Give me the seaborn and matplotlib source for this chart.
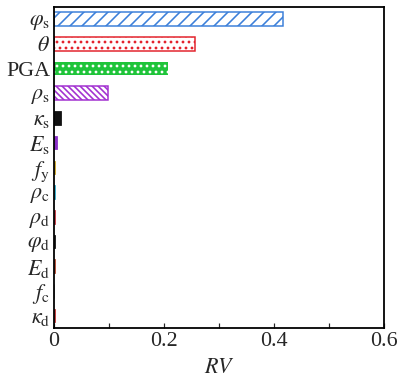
import numpy as np
import pandas as pd
import matplotlib
matplotlib.use("Agg")
import matplotlib.pyplot as plt
from matplotlib.ticker import MultipleLocator, FuncFormatter
import seaborn as sns

# data (top to bottom)
params = [r'$\varphi_\mathrm{s}$', r'$\theta$', 'PGA', r'$\rho_\mathrm{s}$', r'$\kappa_\mathrm{s}$',
          r'$E_\mathrm{s}$', r'$f_\mathrm{y}$', r'$\rho_\mathrm{c}$', r'$\rho_\mathrm{d}$',
          r'$\varphi_\mathrm{d}$', r'$E_\mathrm{d}$', r'$f_\mathrm{c}$', r'$\kappa_\mathrm{d}$']
rv = [0.416, 0.257, 0.207, 0.098, 0.012, 0.005, 0.001, 0.002, 0.002, 0.002, 0.001, 0.0005, 0.001]
bar_colors = ['#3b7fd9', '#e3212b', '#1fc43a', '#a12fd0', '#111111', '#8a2fc8', '#c8a020',
              '#2aa8c8', '#c0303a', '#111111', '#b0442a', '#888888', '#c03030']
hatches = ['//', '..', '..', '\\\\\\\\', '', '', '', '', '', '', '', '', '']

df = pd.DataFrame({'param': params, 'RV': rv})

sns.set_style('ticks')
plt.rcParams['font.family'] = ['Liberation Serif', 'DejaVu Serif']
plt.rcParams['mathtext.fontset'] = 'stix'
plt.rcParams['hatch.linewidth'] = 1.6

fig, ax = plt.subplots(figsize=(397/72, 380/72), dpi=72)
fig.subplots_adjust(left=0.136, right=0.967, top=0.982, bottom=0.137)

sns.barplot(data=df, x='RV', y='param', hue='param', palette=bar_colors,
            legend=False, orient='h', width=0.55, ax=ax)

# outline / hatch styling per bar
for i, p in enumerate(ax.patches):
    c = bar_colors[i]
    if i == 2:
        # green fill with white dots
        p.set_facecolor(c)
        p.set_edgecolor('white')
        p.set_linewidth(0)
        p.set_hatch(hatches[i])
    elif hatches[i]:
        p.set_facecolor('white')
        p.set_edgecolor(c)
        p.set_linewidth(1.5)
        p.set_hatch(hatches[i])
    else:
        p.set_facecolor(c)
        p.set_edgecolor(c)
        p.set_linewidth(0.8)

ax.set_xlim(0, 0.6)
ax.set_ylim(12.5, -0.5)
ax.xaxis.set_major_locator(MultipleLocator(0.2))
ax.xaxis.set_minor_locator(MultipleLocator(0.1))
ax.xaxis.set_major_formatter(FuncFormatter(lambda v, pos: '0' if abs(v) < 1e-9 else f'{v:.1f}'))
ax.tick_params(axis='x', which='major', direction='in', length=5, width=1.2, labelsize=22, pad=4)
ax.tick_params(axis='x', which='minor', direction='in', length=5, width=1.2)
ax.tick_params(axis='y', length=0, labelsize=22, pad=4)
for s in ax.spines.values():
    s.set_visible(True)
    s.set_linewidth(1.8)
    s.set_color('black')

ax.set_xlabel(r'$RV$', fontsize=22, labelpad=8)
ax.set_ylabel('')

plt.savefig('out.png', dpi=72)
